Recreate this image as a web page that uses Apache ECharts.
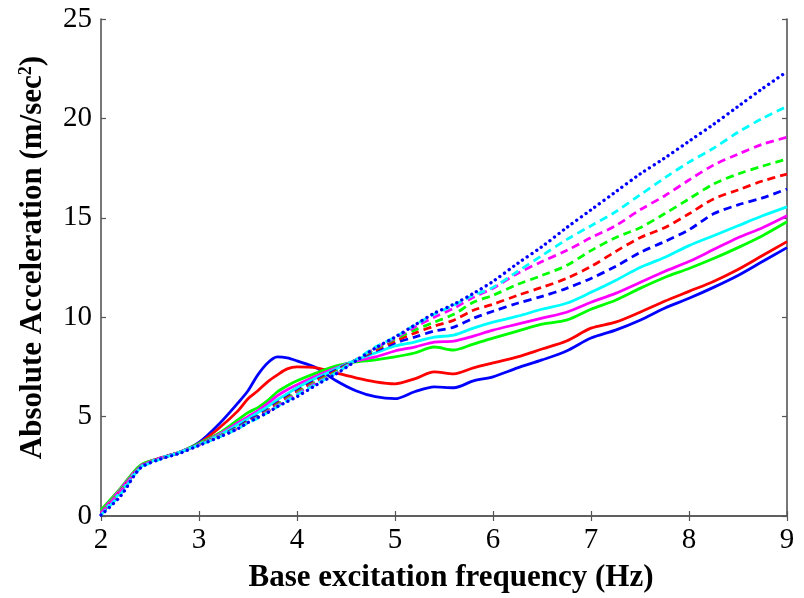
<!DOCTYPE html>
<html>
<head>
<meta charset="utf-8">
<script src="https://cdn.jsdelivr.net/npm/echarts@6/dist/echarts.min.js"></script>
<style>html,body{margin:0;padding:0;background:#fff;}#chart{width:804px;height:598px;}</style>
</head>
<body>
<div id="chart"></div>
<script>
const freq = [2.0, 2.2, 2.4, 2.6, 2.8, 3.0, 3.2, 3.4, 3.5, 3.6, 3.7, 3.8, 3.9, 4.0, 4.2, 4.4, 4.6, 4.8, 5.0, 5.2, 5.4, 5.6, 5.8, 6.0, 6.25, 6.5, 6.75, 7.0, 7.25, 7.5, 7.75, 8.0, 8.25, 8.5, 8.75, 9.0];

const solidBlue    = [0.1, 1.3, 2.5, 2.9, 3.2, 3.7, 4.6, 5.7, 6.3, 7.1, 7.7, 8.0, 7.95, 7.8, 7.45, 6.8, 6.3, 6.0, 5.9, 6.25, 6.5, 6.45, 6.8, 7.0, 7.45, 7.85, 8.3, 8.95, 9.35, 9.85, 10.45, 10.95, 11.5, 12.1, 12.8, 13.5];
const solidRed     = [0.1, 1.3, 2.5, 2.9, 3.2, 3.65, 4.4, 5.3, 5.9, 6.3, 6.75, 7.1, 7.4, 7.5, 7.45, 7.2, 6.95, 6.75, 6.65, 6.9, 7.25, 7.15, 7.45, 7.7, 8.0, 8.4, 8.8, 9.45, 9.75, 10.25, 10.8, 11.3, 11.8, 12.4, 13.1, 13.8];
const solidGreen   = [0.3, 1.4, 2.55, 2.9, 3.2, 3.65, 4.15, 4.85, 5.2, 5.45, 5.8, 6.25, 6.55, 6.8, 7.2, 7.55, 7.75, 7.85, 8.0, 8.2, 8.5, 8.35, 8.65, 8.95, 9.3, 9.65, 9.85, 10.4, 10.85, 11.45, 12.0, 12.45, 12.95, 13.5, 14.1, 14.8];
const solidMagenta = [0.2, 1.35, 2.5, 2.9, 3.2, 3.6, 4.1, 4.7, 5.0, 5.3, 5.65, 6.05, 6.35, 6.6, 7.05, 7.45, 7.8, 8.0, 8.3, 8.5, 8.75, 8.8, 9.05, 9.35, 9.65, 9.95, 10.25, 10.75, 11.2, 11.75, 12.3, 12.8, 13.4, 14.0, 14.5, 15.1];
const solidCyan    = [0.1, 1.2, 2.45, 2.9, 3.2, 3.6, 4.05, 4.6, 4.9, 5.2, 5.5, 5.85, 6.15, 6.45, 6.95, 7.4, 7.85, 8.2, 8.55, 8.75, 9.0, 9.1, 9.45, 9.75, 10.05, 10.4, 10.7, 11.25, 11.85, 12.5, 13.0, 13.6, 14.1, 14.6, 15.1, 15.55];
const dashedBlue    = [0.1, 1.2, 2.45, 2.9, 3.2, 3.6, 4.0, 4.5, 4.8, 5.05, 5.35, 5.7, 6.0, 6.3, 6.85, 7.35, 7.85, 8.3, 8.7, 9.0, 9.3, 9.5, 9.95, 10.3, 10.7, 11.05, 11.45, 11.95, 12.55, 13.25, 13.8, 14.4, 15.2, 15.65, 16.0, 16.45];
const dashedRed     = [0.1, 1.25, 2.45, 2.9, 3.2, 3.6, 4.0, 4.45, 4.75, 5.0, 5.3, 5.65, 5.95, 6.25, 6.8, 7.3, 7.85, 8.35, 8.8, 9.2, 9.55, 9.85, 10.35, 10.65, 11.1, 11.5, 11.95, 12.55, 13.3, 14.0, 14.5, 15.2, 15.95, 16.4, 16.85, 17.2];
const dashedGreen   = [0.2, 1.3, 2.5, 2.9, 3.2, 3.6, 3.98, 4.45, 4.72, 4.98, 5.28, 5.6, 5.9, 6.2, 6.75, 7.25, 7.85, 8.4, 8.9, 9.35, 9.75, 10.15, 10.75, 11.1, 11.65, 12.1, 12.6, 13.35, 14.0, 14.5, 15.2, 15.95, 16.7, 17.2, 17.6, 17.95];
const dashedMagenta = [0.15, 1.25, 2.45, 2.9, 3.2, 3.58, 3.97, 4.42, 4.7, 4.95, 5.25, 5.55, 5.85, 6.15, 6.7, 7.2, 7.85, 8.45, 8.95, 9.5, 10.0, 10.45, 11.0, 11.45, 12.2, 12.8, 13.35, 14.0, 14.6, 15.4, 16.1, 16.9, 17.65, 18.2, 18.7, 19.05];
const dashedCyan    = [0.05, 1.1, 2.4, 2.85, 3.2, 3.57, 3.96, 4.4, 4.68, 4.92, 5.2, 5.5, 5.8, 6.1, 6.65, 7.2, 7.85, 8.5, 9.0, 9.6, 10.15, 10.6, 11.1, 11.5, 12.3, 13.1, 13.9, 14.6, 15.3, 16.15, 17.0, 17.8, 18.5, 19.3, 20.0, 20.6];
const dottedBlue    = [0.05, 1.0, 2.4, 2.85, 3.15, 3.55, 3.95, 4.4, 4.7, 4.95, 5.2, 5.5, 5.75, 6.0, 6.6, 7.15, 7.8, 8.45, 9.0, 9.6, 10.2, 10.65, 11.2, 11.8, 12.7, 13.55, 14.5, 15.4, 16.3, 17.2, 18.0, 18.85, 19.7, 20.6, 21.5, 22.35];

const xTicks = [2, 3, 4, 5, 6, 7, 8, 9];
const yTicks = [0, 5, 10, 15, 20, 25];

const seriesDefs = [
  { name: 'solid blue', data: solidBlue, color: '#0000ff', dash: 'solid' },
  { name: 'solid red', data: solidRed, color: '#ff0000', dash: 'solid' },
  { name: 'solid green', data: solidGreen, color: '#00ff00', dash: 'solid' },
  { name: 'solid magenta', data: solidMagenta, color: '#ff00ff', dash: 'solid' },
  { name: 'solid cyan', data: solidCyan, color: '#00ffff', dash: 'solid' },
  { name: 'dashed blue', data: dashedBlue, color: '#0000ff', dash: 'dashed' },
  { name: 'dashed red', data: dashedRed, color: '#ff0000', dash: 'dashed' },
  { name: 'dashed green', data: dashedGreen, color: '#00ff00', dash: 'dashed' },
  { name: 'dashed magenta', data: dashedMagenta, color: '#ff00ff', dash: 'dashed' },
  { name: 'dashed cyan', data: dashedCyan, color: '#00ffff', dash: 'dashed' },
  { name: 'dotted blue', data: dottedBlue, color: '#0000ff', dash: 'dotted' }
];

function dashType(d) {
  if (d === 'dashed') return [8, 5];
  if (d === 'dotted') return [0.1, 5.5];
  return 'solid';
}

const series = seriesDefs.map(s => ({
  name: s.name,
  type: 'line',
  xAxisIndex: 0,
  yAxisIndex: 0,
  showSymbol: false,
  symbol: 'none',
  smooth: 0.3,
  animation: false,
  data: freq.map((f, i) => [f, s.data[i]]),
  lineStyle: { color: s.color, width: s.dash === 'dotted' ? 3.3 : 2.8, type: dashType(s.dash), cap: s.dash === 'dotted' ? 'round' : 'butt' },
  itemStyle: { color: s.color }
}));

const axisLine = { show: true, lineStyle: { color: '#555', width: 1.6 } };
const serif = '"Liberation Serif", "Times New Roman", serif';
const tick = { show: true, inside: true, length: 5, lineStyle: { color: '#555', width: 1.2 } };

const chart = echarts.init(document.getElementById('chart'), null, { renderer: 'canvas' });
chart.setOption({
  animation: false,
  backgroundColor: '#fff',
  grid: { left: 101, right: 17, top: 19, bottom: 81, containLabel: false },
  xAxis: [
    {
      type: 'value', min: xTicks[0], max: xTicks[xTicks.length - 1], interval: 1, position: 'bottom',
      axisLine: axisLine, axisTick: tick,
      axisLabel: { color: '#000', fontFamily: serif, fontSize: 29, margin: 10 },
      splitLine: { show: false },
      name: 'Base excitation frequency (Hz)', nameLocation: 'middle', nameGap: 46,
      nameTextStyle: { color: '#000', fontFamily: serif, fontWeight: 'bold', fontSize: 31, padding: [0, 0, 0, 14] }
    },
    {
      type: 'value', min: xTicks[0], max: xTicks[xTicks.length - 1], interval: 1, position: 'top',
      axisLine: axisLine, axisTick: tick,
      axisLabel: { show: false }, splitLine: { show: false }
    }
  ],
  yAxis: [
    {
      type: 'value', min: yTicks[0], max: yTicks[yTicks.length - 1], interval: 5, position: 'left',
      axisLine: axisLine, axisTick: tick,
      axisLabel: { color: '#000', fontFamily: serif, fontSize: 29, margin: 9 },
      splitLine: { show: false },
      name: 'Absolute Acceleration (m/sec{sup|2})', nameLocation: 'middle', nameGap: 52, nameRotate: 90,
      nameTextStyle: { color: '#000', fontFamily: serif, fontWeight: 'bold', fontSize: 31, padding: [0, 0, 0, 20],
        rich: { sup: { fontFamily: serif, fontWeight: 'bold', fontSize: 18, verticalAlign: 'top', padding: [0, 0, 14, 0], color: '#000' } } }
    },
    {
      type: 'value', min: yTicks[0], max: yTicks[yTicks.length - 1], interval: 5, position: 'right',
      axisLine: axisLine, axisTick: tick,
      axisLabel: { show: false }, splitLine: { show: false }
    }
  ],
  series: series
});
</script>
</body>
</html>
